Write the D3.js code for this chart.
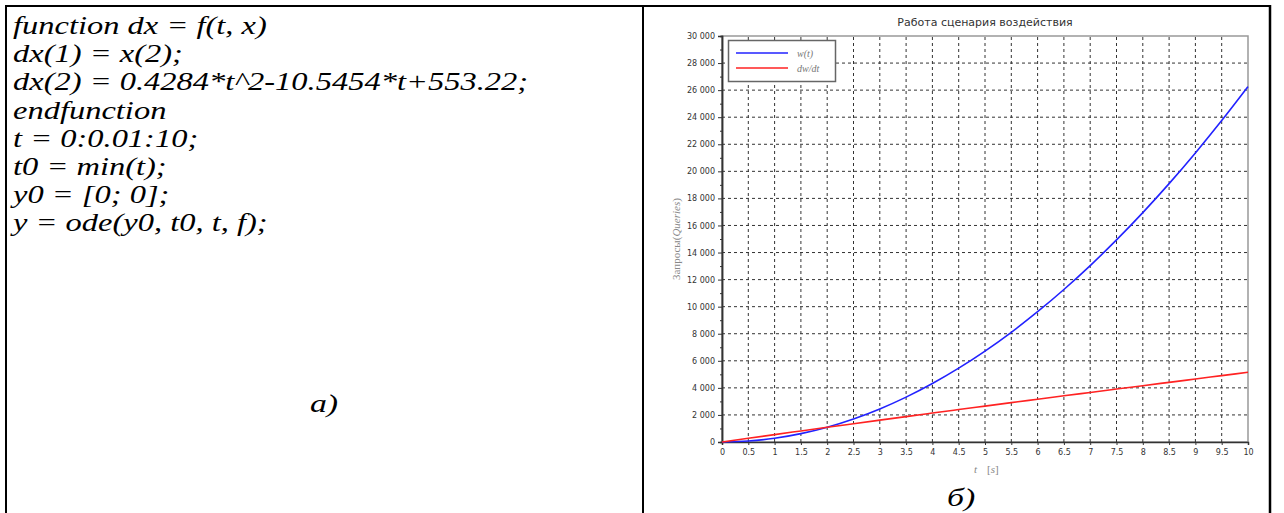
<!DOCTYPE html>
<html>
<head>
<meta charset="utf-8">
<script src="https://cdn.jsdelivr.net/npm/d3@7"></script>
<style>
  html, body { margin: 0; padding: 0; background: #fff; }
  svg { display: block; }
</style>
</head>
<body>
<svg id="chart" width="1284" height="513"></svg>
<script>
// ---- data ----
const codeLines = [
  "function dx = f(t, x)",
  "dx(1) = x(2);",
  "dx(2) = 0.4284*t^2-10.5454*t+553.22;",
  "endfunction",
  "t = 0:0.01:10;",
  "t0 = min(t);",
  "y0 = [0; 0];",
  "y = ode(y0, t0, t, f);"
];
const captionA = "а)";
const captionB = "б)";
const chartTitle = "Работа сценария воздействия";
const tValues = [0, 0.5, 1, 1.5, 2, 2.5, 3, 3.5, 4, 4.5, 5, 5.5, 6, 6.5, 7, 7.5, 8, 8.5, 9, 9.5, 10];
const wValues = [0, 69, 275, 617, 1093, 1703, 2445, 3318, 4322, 5456, 6718, 8108, 9625, 11268, 13037, 14931, 16949, 19092, 21358, 23748, 26260];
const dwdtValues = [0, 275, 548, 818, 1087, 1352, 1616, 1878, 2138, 2396, 2652, 2907, 3160, 3412, 3663, 3913, 4161, 4409, 4656, 4902, 5148];
const xTicks = [0, 0.5, 1, 1.5, 2, 2.5, 3, 3.5, 4, 4.5, 5, 5.5, 6, 6.5, 7, 7.5, 8, 8.5, 9, 9.5, 10];
const yTicks = [0, 2000, 4000, 6000, 8000, 10000, 12000, 14000, 16000, 18000, 20000, 22000, 24000, 26000, 28000, 30000];
const yMinorTicks = [1000, 3000, 5000, 7000, 9000, 11000, 13000, 15000, 17000, 19000, 21000, 23000, 25000, 27000, 29000];
const seriesNames = ["w(t)", "dw/dt"];
const seriesColors = ["#2222ff", "#ff2222"];

// ---- drawing ----
const svg = d3.select("#chart");

// table frame
const frame = svg.append("g").attr("stroke", "#000").attr("stroke-width", 2);
frame.append("line").attr("x1", 5).attr("x2", 1271).attr("y1", 6).attr("y2", 6);
frame.append("line").attr("x1", 6).attr("x2", 6).attr("y1", 5).attr("y2", 513);
frame.append("line").attr("x1", 643).attr("x2", 643).attr("y1", 5).attr("y2", 513);
frame.append("line").attr("x1", 1270).attr("x2", 1270).attr("y1", 5).attr("y2", 513).attr("stroke-width", 2.5);

// code text (the source picture is stretched horizontally)
const serif = "'Liberation Serif', 'Times New Roman', serif";
const stretch = 1.3;
svg.append("g").selectAll("text").data(codeLines).join("text")
  .attr("transform", (d, i) => `translate(13,${34 + i * 28.2}) scale(${stretch},1)`)
  .attr("font-family", serif)
  .attr("font-style", "italic")
  .attr("font-size", 25)
  .attr("fill", "#000")
  .text(d => d);

svg.append("text").attr("transform", `translate(324,412) scale(${stretch},1)`).attr("text-anchor", "middle")
  .attr("font-family", serif).attr("font-style", "italic").attr("font-size", 26)
  .text(captionA);
svg.append("text").attr("transform", `translate(961,506) scale(${stretch},1)`).attr("text-anchor", "middle")
  .attr("font-family", serif).attr("font-style", "italic").attr("font-size", 26)
  .text(captionB);

// chart
const x = d3.scaleLinear().domain([0, 10]).range([722, 1248]);
const y = d3.scaleLinear().domain([0, 30000]).range([442, 36]);
const sans = "'DejaVu Sans', sans-serif";
const locale = d3.formatLocale({ decimal: ".", thousands: " ", grouping: [3], currency: ["", ""] });
const fmtY = locale.format(",");

// plot frame top / right
svg.append("rect").attr("x", x(0)).attr("y", y(30000)).attr("width", x(10) - x(0)).attr("height", y(0) - y(30000))
  .attr("fill", "none").attr("stroke", "#999").attr("stroke-width", 1.5);

// grid
const grid = svg.append("g").attr("stroke", "#333").attr("stroke-width", 1).attr("stroke-dasharray", "3,3");
grid.selectAll(".vg").data(xTicks.filter(d => d > 0 && d < 10)).join("line")
  .attr("x1", d => x(d)).attr("x2", d => x(d)).attr("y1", y(0)).attr("y2", y(30000));
grid.selectAll(".hg").data(yTicks.filter(d => d > 0 && d < 30000)).join("line")
  .attr("x1", x(0)).attr("x2", x(10)).attr("y1", d => y(d)).attr("y2", d => y(d));

// axes
const xAxis = d3.axisBottom(x).tickValues(xTicks).tickSize(3).tickPadding(4).tickFormat(d3.format("~g"));
const gx = svg.append("g").attr("transform", `translate(0,${y(0)})`).call(xAxis);
const yAxis = d3.axisLeft(y).tickValues(yTicks).tickSize(4).tickPadding(3).tickFormat(fmtY);
const gy = svg.append("g").attr("transform", `translate(${x(0)},0)`).call(yAxis);
const yMinor = d3.axisLeft(y).tickValues(yMinorTicks).tickSize(2).tickFormat("");
const gym = svg.append("g").attr("transform", `translate(${x(0)},0)`).call(yMinor);
[gx, gy, gym].forEach(g => {
  g.select(".domain").attr("stroke", "#333").attr("stroke-width", 1.5);
  g.selectAll(".tick line").attr("stroke", "#333");
  g.selectAll(".tick text").attr("font-family", sans).attr("font-size", 8).attr("fill", "#333");
});

// title
svg.append("text").attr("x", (x(0) + x(10)) / 2).attr("y", 26).attr("text-anchor", "middle")
  .attr("font-family", sans).attr("font-size", 11).attr("fill", "#333").text(chartTitle);

// axis labels
const yl = svg.append("text").attr("transform", `translate(680,${(y(0) + y(30000)) / 2}) rotate(-90)`)
  .attr("text-anchor", "middle").attr("font-family", serif).attr("font-size", 11).attr("fill", "#888");
yl.append("tspan").text("Запросы(");
yl.append("tspan").attr("font-style", "italic").text("Queries");
yl.append("tspan").text(")");

const xl = svg.append("text").attr("x", 974).attr("y", 473)
  .attr("font-family", serif).attr("font-size", 11).attr("fill", "#888");
xl.append("tspan").attr("font-style", "italic").text("t");
xl.append("tspan").attr("dx", 10).text("[");
xl.append("tspan").attr("font-style", "italic").text("s");
xl.append("tspan").text("]");

// lines
const series = [wValues, dwdtValues];
const line = d3.line().x((d, i) => x(tValues[i])).y(d => y(d)).curve(d3.curveMonotoneX);
svg.append("g").selectAll("path").data(series).join("path")
  .attr("d", d => line(d))
  .attr("fill", "none")
  .attr("stroke", (d, i) => seriesColors[i])
  .attr("stroke-width", 1.6);

// legend
const lg = svg.append("g");
lg.append("rect").attr("x", 728.5).attr("y", 40.5).attr("width", 107).attr("height", 41)
  .attr("fill", "#fff").attr("stroke", "#666").attr("stroke-width", 1.5);
seriesNames.forEach((name, i) => {
  const yy = 53 + i * 15;
  lg.append("line").attr("x1", 736).attr("x2", 788).attr("y1", yy).attr("y2", yy)
    .attr("stroke", seriesColors[i]).attr("stroke-width", 1.6);
  lg.append("text").attr("x", 797).attr("y", yy + 3.5)
    .attr("font-family", serif).attr("font-style", "italic").attr("font-size", 10).attr("fill", "#777")
    .text(name);
});
</script>
</body>
</html>
